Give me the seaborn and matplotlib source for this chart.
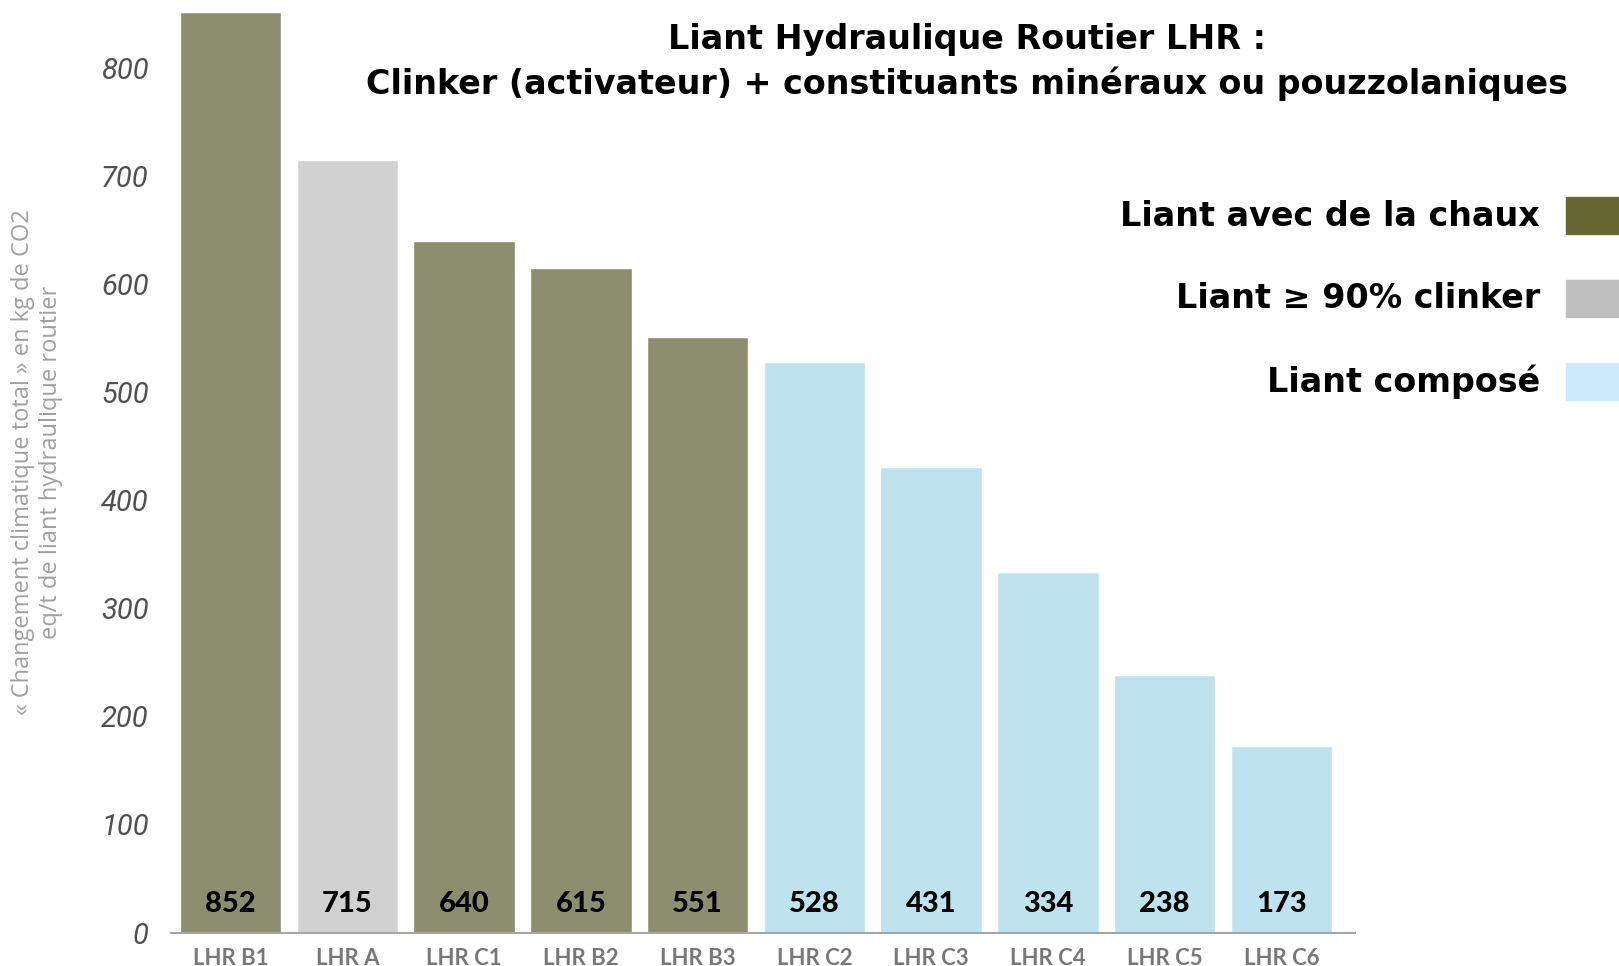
import pandas as pd
import numpy as np
import matplotlib
matplotlib.use("Agg")
import matplotlib.pyplot as plt
import seaborn as sns

# donnees
liants = ["LHR B1", "LHR A", "LHR C1", "LHR B2", "LHR B3",
          "LHR C2", "LHR C3", "LHR C4", "LHR C5", "LHR C6"]
valeurs = [852, 715, 640, 615, 551, 528, 431, 334, 238, 173]
types = ["chaux", "clinker", "chaux", "chaux", "chaux",
         "compose", "compose", "compose", "compose", "compose"]

legende_textes = ["Liant avec de la chaux", "Liant \u2265 90% clinker", "Liant compos\u00e9"]
legende_types = ["chaux", "clinker", "compose"]

couleurs_barres = {"chaux": "#8c8e6f", "clinker": "#d1d1d1", "compose": "#bfe3ee"}
couleurs_legende = {"chaux": "#666633", "clinker": "#bfbfbf", "compose": "#cdeafc"}

data = pd.DataFrame({"liant": liants, "valeur": valeurs, "type": types})

sns.set_style("white")
plt.rcParams["font.family"] = ["DejaVu Sans"]
plt.rcParams["text.color"] = "black"

fig = plt.figure(figsize=(16.19, 9.66), dpi=100)
ax = fig.add_axes([171 / 1619, 1 - 932.5 / 966, (1355 - 171) / 1619, (932.5 - 12) / 966])

sns.barplot(data=data, x="liant", y="valeur", hue="type", palette=couleurs_barres,
            dodge=False, width=0.87, legend=False, ax=ax, saturation=1)

ax.set_xlim(-0.51, 9.63)
ax.set_ylim(0, 852)
ax.set_yticks(range(0, 801, 100))
ax.set_xlabel("")
ax.set_ylabel("")
for s in ["top", "right", "left"]:
    ax.spines[s].set_visible(False)
ax.spines["bottom"].set_color("#a6a6a6")
ax.spines["bottom"].set_linewidth(1.5)
ax.tick_params(axis="both", length=0)
ax.tick_params(axis="y", pad=16)
ax.tick_params(axis="x", pad=11)

for lab in ax.get_yticklabels():
    lab.set_fontfamily("Roboto")
    lab.set_fontstyle("italic")
    lab.set_fontweight("normal")
    lab.set_fontsize(21)
    lab.set_color("#505050")
for lab in ax.get_xticklabels():
    lab.set_fontfamily("Lato")
    lab.set_fontweight("bold")
    lab.set_fontsize(16)
    lab.set_color("#787878")

# valeurs en bas des barres
for i, v in enumerate(valeurs):
    ax.text(i, 26, str(v), ha="center", va="center", fontsize=21,
            fontweight="black", family="Lato", color="black")

# titre
fig.text(967 / 1619, 1 - 40 / 966, "Liant Hydraulique Routier LHR :",
         ha="center", va="center", fontsize=24, fontweight="bold", color="black")
fig.text(967 / 1619, 1 - 84 / 966,
         "Clinker (activateur) + constituants min\u00e9raux ou pouzzolaniques",
         ha="center", va="center", fontsize=24, fontweight="bold", color="black")

# legende manuelle
for k, (txt, t) in enumerate(zip(legende_textes, legende_types)):
    y = 216 + k * 83
    fig.text(1540 / 1619, 1 - y / 966, txt, ha="right", va="center",
             fontsize=24, fontweight="bold", color="black")
    fig.patches.append(plt.Rectangle((1566 / 1619, 1 - (y + 18) / 966), 60 / 1619, 37 / 966,
                                     transform=fig.transFigure, color=couleurs_legende[t]))

# titre de l'axe y
fig.text(37 / 1619, 1 - 462 / 966,
         "\u00ab Changement climatique total \u00bb en kg de CO2\neq/t de liant hydraulique routier",
         rotation=90, ha="center", va="center", fontsize=17, family="Open Sans",
         color="#a0a0a0", linespacing=1.2)

fig.savefig("out.png", dpi=100)
